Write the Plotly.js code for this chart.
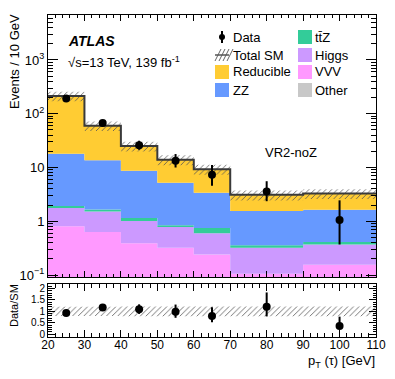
<!DOCTYPE html>
<html>
<head>
<meta charset="utf-8">
<script src="https://cdn.plot.ly/plotly-3.0.1.min.js"></script>
<style>html,body{margin:0;padding:0;background:#fff;} #plot{width:395px;height:379px;}</style>
</head>
<body>
<div id="plot"></div>
<script>
// ---- data (per 10 GeV) ----
const binEdges   = [20, 30, 40, 50, 60, 70, 90, 110];
const binCenters = [25, 35, 45, 55, 65, 80, 100];
const other      = [0.02, 0.02, 0.02, 0.02, 0.02, 0.02, 0.02];
const vvv        = [0.79, 0.61, 0.37, 0.30, 0.22, 0.085, 0.135];
const higgs      = [0.96, 0.89, 0.62, 0.46, 0.36, 0.215, 0.215];
const ttz        = [0.16, 0.14, 0.14, 0.06, 0.15, 0.036, 0.04];
const zz         = [16.1, 12.0, 7.55, 4.36, 2.65, 1.19, 1.22];
const reducible  = [195, 46.3, 16.3, 8.7, 5.9, 1.55, 1.64];
const sysRel     = [0.20, 0.20, 0.21, 0.21, 0.21, 0.21, 0.21];
const dataVals   = [193, 67, 26, 13.3, 7.3, 3.56, 1.05];
const dataErrUp  = [14, 8.5, 5.5, 4.5, 3.8, 2.0, 1.4];
const dataErrDn  = [14, 8.0, 4.6, 3.3, 2.7, 1.2, 0.68];
const ratioVals  = [0.93, 1.17, 1.09, 0.98, 0.80, 1.20, 0.36];
const ratioErrUp = [0.07, 0.10, 0.22, 0.32, 0.38, 0.63, 0.41];
const ratioErrDn = [0.07, 0.10, 0.20, 0.26, 0.27, 0.42, 0.14];
const yTickVals  = [0.1, 1, 10, 100, 1000];
const yTickText  = ['10<sup>−1</sup>', '1', '10', '10<sup>2</sup>', '10<sup>3</sup>'];
const rTickVals  = [0, 0.5, 1, 1.5, 2];
const rTickText  = ['0', '0.5', '1', '1.5', '2'];

const colors = {reducible:'#ffcc33', zz:'#6699ff', ttz:'#33cc99', higgs:'#cc99ff', vvv:'#ff99ff', other:'#c8c8c8'};
const FONT = 'Liberation Sans, Arial, Helvetica, sans-serif';

function step(arr){ return arr.concat([arr[arr.length-1]]); }
function addArr(a,b){ return a.map((v,i)=>v+b[i]); }

// cumulative stack (bottom -> top)
const cOther = other.slice();
const cVVV = addArr(cOther, vvv);
const cHiggs = addArr(cVVV, higgs);
const cTtz = addArr(cHiggs, ttz);
const cZZ = addArr(cTtz, zz);
const cTot = addArr(cZZ, reducible);
const floorVal = cOther.map(()=>1e-4);

const traces = [];
traces.push({x:binEdges, y:step(floorVal), mode:'lines', line:{width:0, shape:'hv'}, hoverinfo:'skip', xaxis:'x', yaxis:'y'});
[[cOther,colors.other],[cVVV,colors.vvv],[cHiggs,colors.higgs],[cTtz,colors.ttz],[cZZ,colors.zz],[cTot,colors.reducible]].forEach(([arr,col])=>{
  traces.push({x:binEdges, y:step(arr), mode:'lines', line:{width:0, shape:'hv'}, fill:'tonexty', fillcolor:col, hoverinfo:'skip', xaxis:'x', yaxis:'y'});
});
// uncertainty band main
const bandLo = cTot.map((v,i)=>v*(1-sysRel[i]));
const bandHi = cTot.map((v,i)=>v*(1+sysRel[i]));
const pat = {shape:'/', fgcolor:'#555555', bgcolor:'rgba(0,0,0,0)', size:4, solidity:0.2};
traces.push({x:binEdges, y:step(bandLo), mode:'lines', line:{width:0, shape:'hv'}, hoverinfo:'skip', xaxis:'x', yaxis:'y'});
traces.push({x:binEdges, y:step(bandHi), mode:'lines', line:{width:0, shape:'hv'}, fill:'tonexty', fillcolor:'rgba(0,0,0,0)', fillpattern:pat, hoverinfo:'skip', xaxis:'x', yaxis:'y'});
// total line
traces.push({x:binEdges, y:step(cTot), mode:'lines', line:{width:2, color:'#3a3a3a', shape:'hv'}, hoverinfo:'skip', xaxis:'x', yaxis:'y'});
// data
traces.push({x:binCenters, y:dataVals, mode:'markers', marker:{size:8, color:'black'},
  error_y:{type:'data', symmetric:false, array:dataErrUp, arrayminus:dataErrDn, thickness:2, width:0, color:'black'}, xaxis:'x', yaxis:'y'});

// ratio band
const rLo = sysRel.map(u=>1-u), rHi = sysRel.map(u=>1+u);
traces.push({x:binEdges, y:step(rLo), mode:'lines', line:{width:0, shape:'hv'}, hoverinfo:'skip', xaxis:'x2', yaxis:'y2'});
traces.push({x:binEdges, y:step(rHi), mode:'lines', line:{width:0, shape:'hv'}, fill:'tonexty', fillcolor:'rgba(0,0,0,0)', fillpattern:pat, hoverinfo:'skip', xaxis:'x2', yaxis:'y2'});
traces.push({x:binCenters, y:ratioVals, mode:'markers', marker:{size:8, color:'black'},
  error_y:{type:'data', symmetric:false, array:ratioErrUp, arrayminus:ratioErrDn, thickness:2, width:0, color:'black'}, xaxis:'x2', yaxis:'y2'});

// ---- layout helpers (pixel -> paper) ----
const L=48, R=376, T=15, B=337;
const px = x => (x-L)/(R-L);
const py = y => (B-y)/(B-T);

const minorLog = [];
[0.1,1,10,100,1000].forEach(d=>{ for(let k=2;k<=9;k++) minorLog.push(k*d); });

const ann = [];
function txt(text, x, y, size, opts){
  ann.push(Object.assign({text:text, x:px(x), y:py(y), xref:'paper', yref:'paper', showarrow:false,
    xanchor:'left', yanchor:'middle', font:{family:FONT, size:size, color:'black'}}, opts||{}));
}
txt('<b><i>ATLAS</i></b>', 66, 41, 14);
txt('√s=13 TeV, 139 fb<sup>-1</sup>', 66, 62, 13);
txt('VR2-noZ', 291, 152, 13, {xanchor:'center'});
txt('Data', 231, 37, 13);
txt('Total SM', 231, 55, 13);
txt('Reducible', 231, 72, 13);
txt('ZZ', 231, 90, 13);
txt('tt̄Z', 313, 37, 13);
txt('Higgs', 313, 55, 13);
txt('VVV', 313, 72, 13);
txt('Other', 313, 90, 13);
txt('Events / 10 GeV', 14, 62, 13, {xanchor:'center', textangle:-90});
txt('Data/SM', 14, 306, 11, {xanchor:'center', textangle:-90});
txt('p<sub>T</sub> (τ) [GeV]', 377, 361, 13, {xanchor:'right'});

const shapes = [];
function rect(x0,y0,x1,y1,col){ shapes.push({type:'rect', xref:'paper', yref:'paper', x0:px(x0), x1:px(x1), y0:py(y1), y1:py(y0), fillcolor:col, line:{width:0}}); }
rect(215,65,229,79,colors.reducible);
rect(215,83,229,97,colors.zz);
rect(298,30,312,44,colors.ttz);
rect(298,48,312,62,colors.higgs);
rect(298,65,312,79,colors.vvv);
rect(298,83,312,97,colors.other);
// data legend symbol
shapes.push({type:'line', xref:'paper', yref:'paper', x0:px(222), x1:px(222), y0:py(31), y1:py(43), line:{color:'black', width:2}});
shapes.push({type:'circle', xref:'paper', yref:'paper', x0:px(219), x1:px(225), y0:py(34), y1:py(40), fillcolor:'black', line:{width:0}});
// total SM legend symbol: hatch lines + line
for(let i=0;i<4;i++){
  const x0 = 215 + i*4;
  shapes.push({type:'line', xref:'paper', yref:'paper', x0:px(x0), x1:px(x0+6), y0:py(61), y1:py(49), line:{color:'#666', width:1}});
}
shapes.push({type:'line', xref:'paper', yref:'paper', x0:px(215), x1:px(229), y0:py(55), y1:py(55), line:{color:'#555', width:1.5}});

const axCommon = {showline:true, linecolor:'black', linewidth:1, mirror:'allticks', ticks:'inside', tickcolor:'black', showgrid:false, zeroline:false, tickfont:{family:FONT, size:12, color:'black'}};
const layout = {
  width:395, height:379, margin:{l:L, r:395-R, t:T, b:379-B}, showlegend:false,
  paper_bgcolor:'white', plot_bgcolor:'white',
  xaxis: Object.assign({}, axCommon, {domain:[0,1], anchor:'y', range:[20,110], tickmode:'linear', tick0:20, dtick:10, ticklen:6, showticklabels:false,
    minor:{ticks:'inside', dtick:2, tick0:20, ticklen:3, tickcolor:'black', showgrid:false}}),
  yaxis: Object.assign({}, axCommon, {domain:[(B-277)/(B-T),1], anchor:'x', type:'log', range:[-1.037, 3.837], tickmode:'array', tickvals:yTickVals, ticktext:yTickText, ticklen:10,
    tickfont:{family:FONT, size:13, color:'black'},
    minor:{ticks:'inside', tickmode:'array', tickvals:minorLog, ticklen:5, tickcolor:'black', showgrid:false}}),
  xaxis2: Object.assign({}, axCommon, {domain:[0,1], anchor:'y2', range:[20,110], tickmode:'linear', tick0:20, dtick:10, ticklen:7, ticklabelstandoff:-3,
    tickfont:{family:FONT, size:12, color:'black'},
    minor:{ticks:'inside', dtick:2, tick0:20, ticklen:4, tickcolor:'black', showgrid:false}}),
  yaxis2: Object.assign({}, axCommon, {domain:[0,(B-284)/(B-T)], anchor:'x2', range:[-0.12, 2.2], tickmode:'array', tickvals:rTickVals, ticktext:rTickText, ticklen:7,
    tickfont:{family:FONT, size:10, color:'black'},
    minor:{ticks:'inside', dtick:0.1, tick0:0, ticklen:3.5, tickcolor:'black', showgrid:false}}),
  annotations: ann,
  shapes: shapes
};
Plotly.newPlot('plot', traces, layout, {staticPlot:true, displayModeBar:false});
</script>
</body>
</html>
